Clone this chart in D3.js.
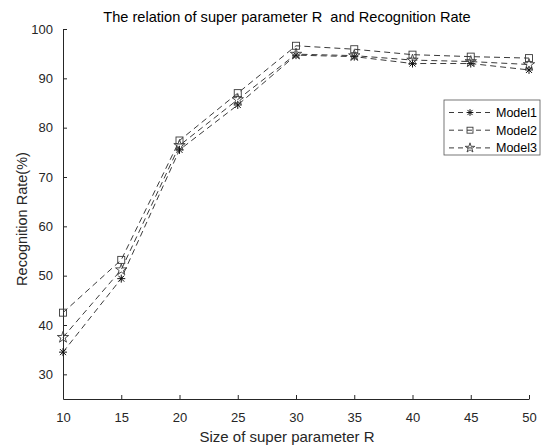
<!DOCTYPE html>
<html>
<head>
<meta charset="utf-8">
<script src="https://cdn.jsdelivr.net/npm/d3@7"></script>
<style>
  body { margin: 0; background: #fff; }
  text { font-family: "Liberation Sans", Arial, sans-serif; white-space: pre; }
</style>
</head>
<body>
<div id="chart-area"></div>
<script>
var sizes = [10, 15, 20, 25, 30, 35, 40, 45, 50];
var model1 = [34.5, 49.4, 75.5, 84.6, 94.7, 94.4, 93.0, 93.0, 91.7];
var model2 = [42.5, 53.2, 77.4, 87.0, 96.6, 95.9, 94.8, 94.4, 94.1];
var model3 = [37.5, 51.2, 76.4, 85.7, 94.9, 94.6, 93.7, 93.4, 92.8];
var seriesNames = ["Model1", "Model2", "Model3"];
var yTicks = [30, 40, 50, 60, 70, 80, 90, 100];

var W = 546, H = 445;
var margin = { top: 29, right: 17, bottom: 46, left: 63 };
var width = W - margin.left - margin.right;
var height = H - margin.top - margin.bottom;

var svg = d3.select("#chart-area")
  .append("svg")
  .attr("width", W)
  .attr("height", H);

var g = svg.append("g")
  .attr("transform", "translate(" + margin.left + "," + margin.top + ")");

var xScale = d3.scaleLinear().domain([10, 50]).range([0, width]);
var yScale = d3.scaleLinear().domain([25, 100]).range([height, 0]);

var axisColor = "#262626";

// axes with inward ticks
var xAxisG = g.append("g")
  .attr("transform", "translate(0," + height + ")")
  .call(d3.axisBottom(xScale).tickValues(sizes).tickSize(-4).tickSizeOuter(0).tickPadding(14));
var yAxisG = g.append("g")
  .call(d3.axisLeft(yScale).tickValues(yTicks).tickSize(-4).tickSizeOuter(0).tickPadding(10));

[xAxisG, yAxisG].forEach(function (a) {
  a.select(".domain").attr("stroke", axisColor).attr("stroke-width", 1);
  a.selectAll(".tick line").attr("stroke", axisColor);
  a.selectAll(".tick text").attr("fill", axisColor).attr("font-size", "13px");
});

// title and labels
svg.append("text")
  .attr("x", 287)
  .attr("y", 22)
  .attr("text-anchor", "middle")
  .attr("font-size", "14.6px")
  .attr("fill", "#000")
  .text("The relation of super parameter R  and Recognition Rate");

svg.append("text")
  .attr("x", 287)
  .attr("y", H - 3)
  .attr("text-anchor", "middle")
  .attr("font-size", "15px")
  .attr("fill", axisColor)
  .text("Size of super parameter R");

svg.append("text")
  .attr("transform", "translate(27,219) rotate(-90)")
  .attr("text-anchor", "middle")
  .attr("font-size", "14.5px")
  .attr("fill", axisColor)
  .text("Recognition Rate(%)");

var lineColor = "#3a3a3a";
var series = [
  { name: seriesNames[0], values: model1, marker: "asterisk" },
  { name: seriesNames[1], values: model2, marker: "square" },
  { name: seriesNames[2], values: model3, marker: "star" }
];

var line = d3.line()
  .x(function (d, i) { return xScale(sizes[i]); })
  .y(function (d) { return yScale(d); });

function drawMarker(sel, type, k) {
  k = k || 1;
  if (type === "square") {
    sel.append("rect").attr("x", -3.5 * k).attr("y", -3.5 * k).attr("width", 7 * k).attr("height", 7 * k)
      .attr("fill", "none").attr("stroke", lineColor).attr("stroke-width", 0.9);
  } else if (type === "asterisk") {
    var p = d3.path();
    p.moveTo(-4 * k, 0); p.lineTo(4 * k, 0);
    p.moveTo(0, -4 * k); p.lineTo(0, 4 * k);
    p.moveTo(-3 * k, -3 * k); p.lineTo(3 * k, 3 * k);
    p.moveTo(-3 * k, 3 * k); p.lineTo(3 * k, -3 * k);
    sel.append("path").attr("d", p.toString()).attr("stroke", "#111").attr("stroke-width", 1).attr("fill", "none");
  } else {
    var sym = d3.symbol().type(d3.symbolStar).size(40 * k * k);
    sel.append("path").attr("d", sym()).attr("fill", "none").attr("stroke", lineColor).attr("stroke-width", 0.9);
  }
}

series.forEach(function (s) {
  g.append("path")
    .datum(s.values)
    .attr("d", line)
    .attr("fill", "none")
    .attr("stroke", lineColor)
    .attr("stroke-width", 1)
    .attr("stroke-dasharray", "6,4");

  g.selectAll(".m-" + s.marker)
    .data(s.values)
    .enter().append("g")
    .attr("class", "m-" + s.marker)
    .attr("transform", function (d, i) { return "translate(" + xScale(sizes[i]) + "," + yScale(d) + ")"; })
    .each(function () { drawMarker(d3.select(this), s.marker); });
});

// legend
var legend = svg.append("g").attr("transform", "translate(444,100)");
legend.append("rect")
  .attr("width", 96).attr("height", 55)
  .attr("fill", "#fff").attr("stroke", "#555").attr("stroke-width", 0.8);

series.forEach(function (s, i) {
  var row = legend.append("g").attr("transform", "translate(0," + (12.5 + i * 17.7) + ")");
  row.append("line")
    .attr("x1", 5).attr("x2", 46).attr("y1", 0).attr("y2", 0)
    .attr("stroke", lineColor).attr("stroke-dasharray", "5,4").attr("stroke-width", 1);
  var m = row.append("g").attr("transform", "translate(26,0)");
  drawMarker(m, s.marker, 0.85);
  row.append("text")
    .attr("x", 52).attr("y", 4.5)
    .attr("font-size", "12.5px")
    .attr("fill", "#000")
    .text(s.name);
});
</script>
</body>
</html>
